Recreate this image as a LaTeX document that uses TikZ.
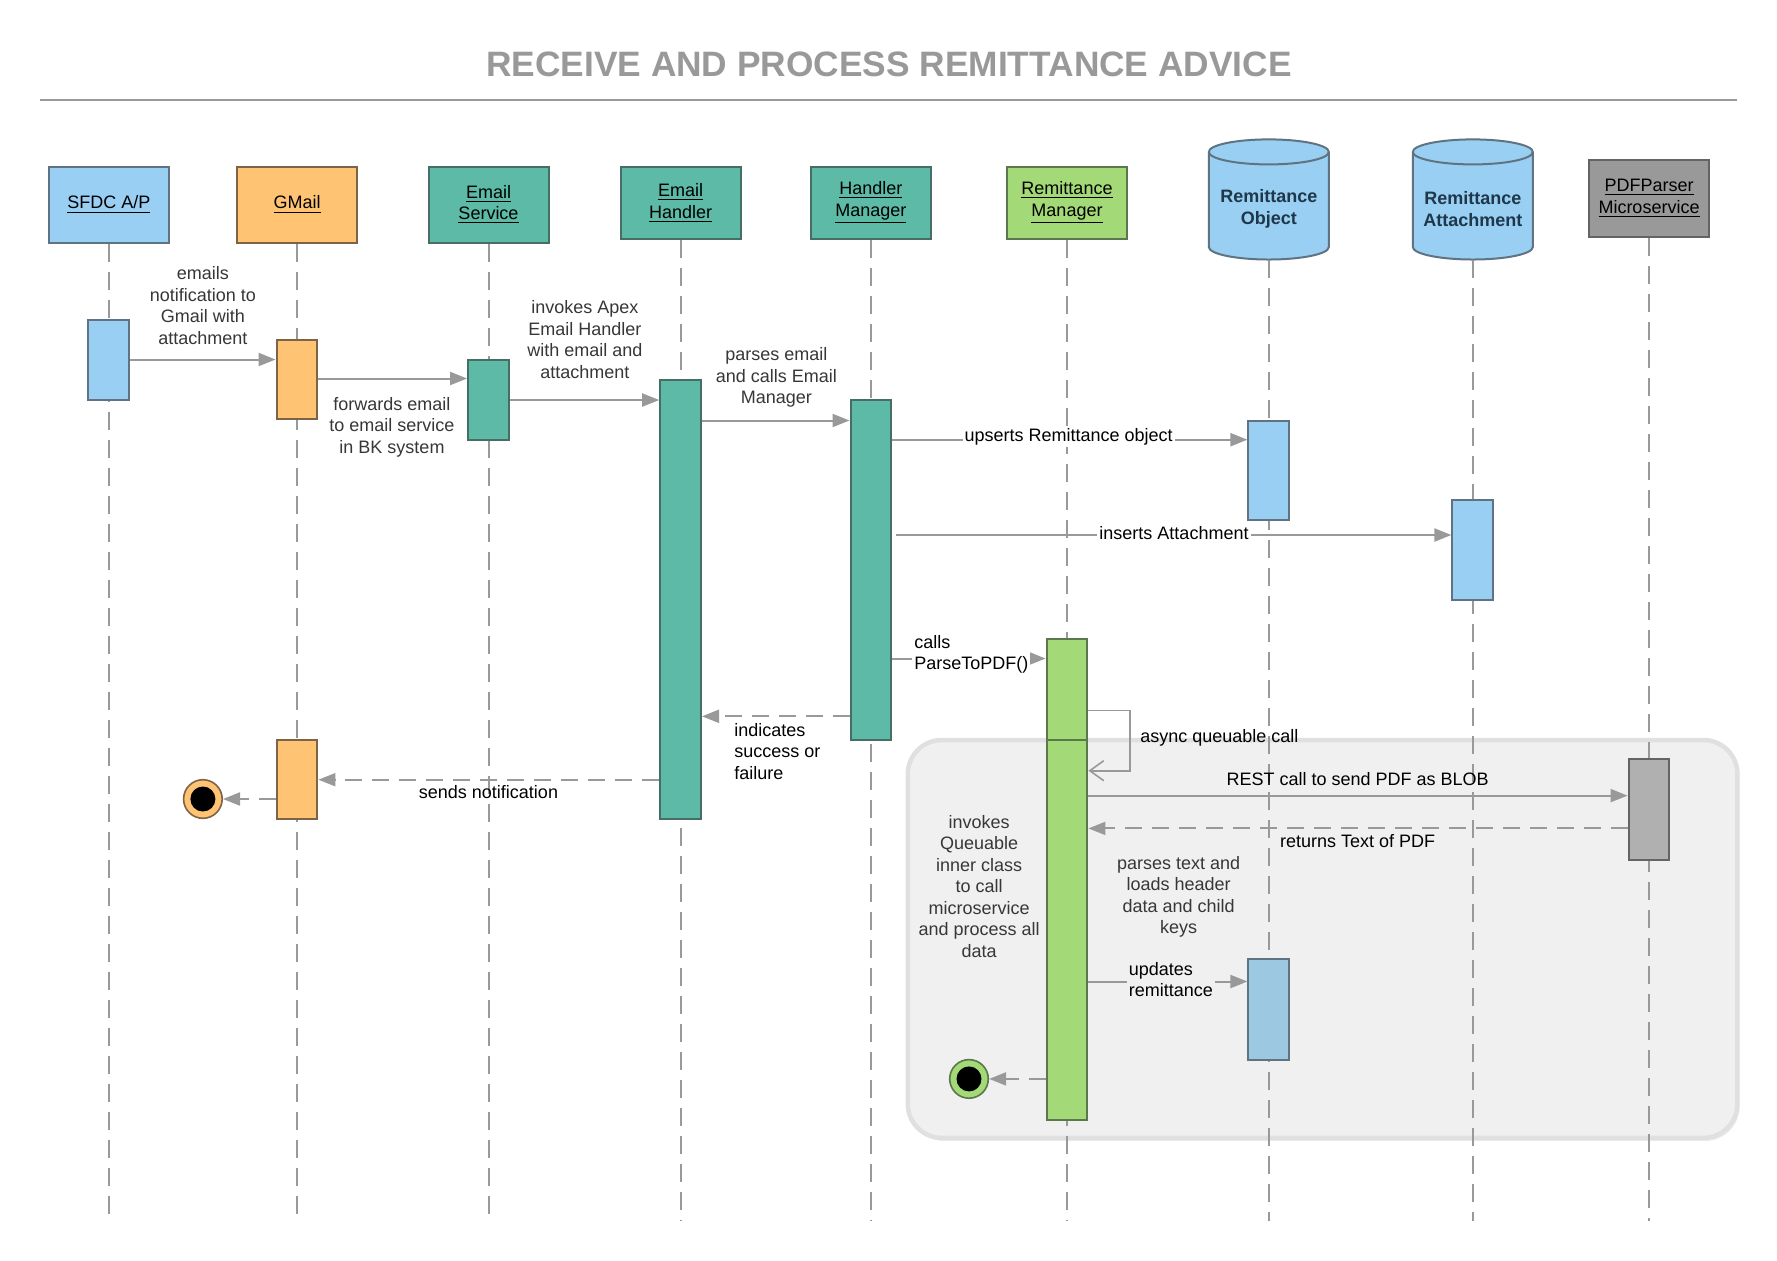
\documentclass[tikz,border=0pt]{standalone}
\usepackage{fontspec}
\setmainfont{Liberation Sans}
\usetikzlibrary{arrows.meta,shadows}
\definecolor{lblue}{RGB}{153,207,242}
\definecolor{lbluedk}{RGB}{95,115,130}
\definecolor{orng}{RGB}{255,195,116}
\definecolor{orngdk}{RGB}{125,100,70}
\definecolor{tealc}{RGB}{92,186,166}
\definecolor{tealdk}{RGB}{70,110,100}
\definecolor{grn}{RGB}{163,217,119}
\definecolor{grndk}{RGB}{90,120,75}
\definecolor{gryhdr}{RGB}{153,153,153}
\definecolor{grydk}{RGB}{100,100,100}
\definecolor{grybar}{RGB}{176,176,176}
\definecolor{lineg}{RGB}{153,153,153}
\definecolor{txtd}{RGB}{55,55,55}
\definecolor{regfill}{RGB}{240,240,240}
\definecolor{regdraw}{RGB}{224,224,224}
\definecolor{cyltxt}{RGB}{30,55,75}
\definecolor{robtwo}{RGB}{156,200,226}
\tikzset{
  lbl/.style={font=\fontsize{9}{10.75}\selectfont, text=txtd, align=center, inner sep=1pt},
  lblk/.style={font=\fontsize{9}{10.75}\selectfont, text=black, align=center, inner sep=1pt},
  hdr/.style={draw, line width=1pt, minimum width=60pt, minimum height=38pt, align=center,
    font=\fontsize{9}{10.75}\selectfont, inner sep=0pt},
  cyl/.style={draw=lbluedk, fill=lblue, line width=1pt},
  cyltext/.style={font=\fontsize{9}{10.75}\selectfont\bfseries, text=cyltxt, align=center, inner sep=0pt},
  actbar/.style={draw, line width=1pt, minimum width=20.4pt, inner sep=0pt},
  life/.style={draw=lineg, line width=1pt, dash pattern=on 9pt off 5pt},
  msg/.style={draw=lineg, line width=1pt, -{Triangle[length=8.5pt,width=6.5pt]}},
  ret/.style={msg, dash pattern=on 8.5pt off 5pt},
  selfmsg/.style={draw=lineg, line width=0.8pt, -{Straight Barb[length=7pt,width=10pt]}},
  endpt/.style={circle, line width=0.8pt, minimum size=19.3pt, inner sep=0pt},
  endin/.style={circle, fill=black, minimum size=12.5pt, inner sep=0pt},
}
\begin{document}
\begin{tikzpicture}[x=0.5pt,y=0.5pt]
\useasboundingbox (0,0) rectangle (1777,-1260);
\fill[white] (0,0) rectangle (1777,-1260);

% title
\node[inner sep=0pt, text=gryhdr] (title) at (889,-64.5)
  {\fontsize{17.65}{20}\selectfont\bfseries RECEIVE AND PROCESS REMITTANCE ADVICE};
\draw[lineg, line width=1pt] (40,-99.7) -- (1737,-99.7);

% gray region
\draw[regdraw, fill=regfill, line width=2.25pt, rounded corners=17pt,
  drop shadow={shadow xshift=1pt, shadow yshift=-1.5pt, opacity=0.08, fill=black}]
  (907.8,-740) rectangle (1737.4,-1137.9);

% headers
\node[hdr, fill=lblue, draw=lbluedk] (sfdc) at (108.8,-204.5) {\underline{SFDC A/P}};
\node[hdr, fill=orng, draw=orngdk] (gmail) at (297,-204.5) {\underline{GMail}};
\node[hdr, fill=tealc, draw=tealdk] (esvc) at (488.5,-204.5) {\underline{Email}\\\underline{Service}};
\node[hdr, fill=tealc, draw=tealdk, minimum height=36.3pt] (ehnd) at (680.6,-202.9) {\underline{Email}\\\underline{Handler}};
\node[hdr, fill=tealc, draw=tealdk, minimum height=36.3pt] (hmgr) at (870.9,-202.9) {\underline{Handler}\\\underline{Manager}};
\node[hdr, fill=grn, draw=grndk, minimum height=36.3pt] (rmgr) at (1067,-202.9) {\underline{Remittance}\\\underline{Manager}};
\node[hdr, fill=gryhdr, draw=grydk, minimum height=38.5pt] (pdf) at (1649,-198.4) {\underline{PDFParser}\\\underline{Microservice}};

% cylinders
\draw[cyl] (1208.8,-151.9) -- (1208.8,-247) arc[start angle=180,end angle=360,x radius=30pt,y radius=6.25pt]
  -- (1328.8,-151.9) arc[start angle=0,end angle=180,x radius=30pt,y radius=6.25pt] -- cycle;
\draw[cyl, fill=none] (1208.8,-151.9) arc[start angle=180,end angle=360,x radius=30pt,y radius=6.25pt];
\node[cyltext] (robj) at (1268.8,-209) {Remittance\\Object};
\draw[cyl] (1412.8,-151.9) -- (1412.8,-247) arc[start angle=180,end angle=360,x radius=30pt,y radius=6.25pt]
  -- (1532.8,-151.9) arc[start angle=0,end angle=180,x radius=30pt,y radius=6.25pt] -- cycle;
\draw[cyl, fill=none] (1412.8,-151.9) arc[start angle=180,end angle=360,x radius=30pt,y radius=6.25pt];
\node[cyltext] (ratt) at (1472.8,-209) {Remittance\\Attachment};

% lifeline ends
\coordinate (sfdcE) at (108.8,-1221);
\coordinate (gmailE) at (297,-1221);
\coordinate (esvcE) at (488.5,-1221);
\coordinate (ehndE) at (680.6,-1221);
\coordinate (hmgrE) at (870.9,-1221);
\coordinate (rmgrE) at (1067,-1221);
\coordinate (robjB) at (1268.8,-260);
\coordinate (robjE) at (1268.8,-1221);
\coordinate (rattB) at (1472.8,-260);
\coordinate (rattE) at (1472.8,-1221);
\coordinate (pdfE) at (1649,-1221);

\draw[life] (sfdc) -- (sfdcE);
\draw[life] (gmail) -- (gmailE);
\draw[life] (esvc) -- (esvcE);
\draw[life] (ehnd) -- (ehndE);
\draw[life] (hmgr) -- (hmgrE);
\draw[life] (rmgr) -- (rmgrE);
\draw[life] (robjB) -- (robjE);
\draw[life] (rattB) -- (rattE);
\draw[life] (pdf) -- (pdfE);

% activation bars
\node[actbar, fill=lblue, draw=lbluedk, minimum height=40.2pt] (b1) at (108.8,-359.8) {};
\node[actbar, fill=orng, draw=orngdk, minimum height=39.65pt] (b2) at (297,-379.65) {};
\node[actbar, fill=tealc, draw=tealdk, minimum height=39.65pt] (b3) at (488.5,-400) {};
\node[actbar, fill=tealc, draw=tealdk, minimum height=219.85pt] (b4) at (680.6,-599.55) {};
\node[actbar, fill=tealc, draw=tealdk, minimum height=170pt] (b5) at (870.9,-570) {};
\node[actbar, fill=lblue, draw=lbluedk, minimum height=49.85pt] (b6) at (1268.8,-470.35) {};
\node[actbar, fill=lblue, draw=lbluedk, minimum height=49.85pt] (b7) at (1472.8,-549.65) {};
\node[actbar, fill=grn, draw=grndk, minimum height=50.4pt] (b8) at (1067,-689.6) {};
\node[actbar, fill=grn, draw=grndk, minimum height=189.85pt] (b9) at (1067,-929.85) {};
\node[actbar, fill=grybar, draw=grydk, minimum height=50.45pt] (b10) at (1649,-809.75) {};
\node[actbar, fill=robtwo, draw=lbluedk, minimum height=50.4pt] (b11) at (1268.8,-1009.2) {};
\node[actbar, fill=orng, draw=orngdk, minimum height=39.7pt] (b12) at (297,-779.7) {};

% end points
\node[endpt, fill=orng, draw=orngdk] (endA) at (202.9,-799) {};
\node[endin] (endAi) at (endA) {};
\node[endpt, fill=grn, draw=grndk] (endB) at (969,-1078.9) {};
\node[endin] (endBi) at (endB) {};

% messages
\draw[msg] (b1.east |- 0,-359.5) -- (b2.west |- 0,-359.5);
\draw[msg] (b2.east |- 0,-378.5) -- (b3.west |- 0,-378.5);
\draw[msg] (b3.east |- 0,-400) -- (b4.west |- 0,-400);
\draw[msg] (b4.east |- 0,-420.5) -- (b5.west |- 0,-420.5);
\draw[msg] (b5.east |- 0,-439.7) -- (b6.west |- 0,-439.7);
\coordinate (a6s) at (896.4,-535);
\draw[msg] (a6s) -- (b7.west |- a6s);
\draw[msg] (b5.east |- 0,-658.5) -- (b8.west |- 0,-658.5);
\draw[ret] (b5.west |- 0,-716.3) -- (b4.east |- 0,-716.3);
\draw[ret] (b4.west |- 0,-779.7) -- (b12.east |- 0,-779.7);
\draw[ret] (b12.west |- endA) -- (endA);
\coordinate (selfA) at (1130,-710.6);
\coordinate (selfB) at (1130,-770.7);
\draw[selfmsg] (b8.east |- selfA) -- (selfA) -- (selfB) -- (b9.east |- selfB);
\draw[msg] (b9.east |- 0,-795.6) -- (b10.west |- 0,-795.6);
\draw[ret] (b10.west |- 0,-828.4) -- (b9.east |- 0,-828.4);
\draw[msg] (b9.east |- 0,-981.5) -- (b11.west |- 0,-981.5);
\draw[ret] (b9.west |- endB) -- (endB);

% labels
\node[lbl] (l1) at (202.9,-305.4) {emails\\notification to\\Gmail with\\attachment};
\node[lbl] (l2) at (392,-427.3) {forwards email\\to email service\\in BK system};
\node[lbl] (l3) at (584.8,-339.4) {invokes Apex\\Email Handler\\with email and\\attachment};
\node[lbl] (l4) at (776.3,-377.4) {parses email\\and calls Email\\Manager};
\node[lblk, fill=white] (l5) at (1068.7,-437) {upserts Remittance object};
\node[lblk, fill=white] (l6) at (1174,-533) {inserts Attachment};
\node[lblk, fill=white, anchor=west, align=left] (l7) at (912,-654.5) {calls\\ParseToPDF()};
\node[lblk, anchor=west, align=left] (l8) at (732,-751.4) {indicates\\success or\\failure};
\node[lblk] (l9) at (488.5,-792.2) {sends notification};
\node[lblk, anchor=west] (l10) at (1137.9,-737.8) {async queuable call};
\node[lblk] (l11) at (1357.7,-778.6) {REST call to send PDF as BLOB};
\node[lblk] (l12) at (1357.7,-841) {returns Text of PDF};
\node[lbl] (l13) at (1178.7,-897) {parses text and\\loads header\\data and child\\keys};
\node[lbl] (l14) at (979.2,-886.2) {invokes\\Queuable\\inner class\\to call\\microservice\\and process all\\data};
\node[lblk, fill=regfill, anchor=west, align=left] (l15) at (1126.5,-979.75) {updates\\remittance};
\end{tikzpicture}
\end{document}
